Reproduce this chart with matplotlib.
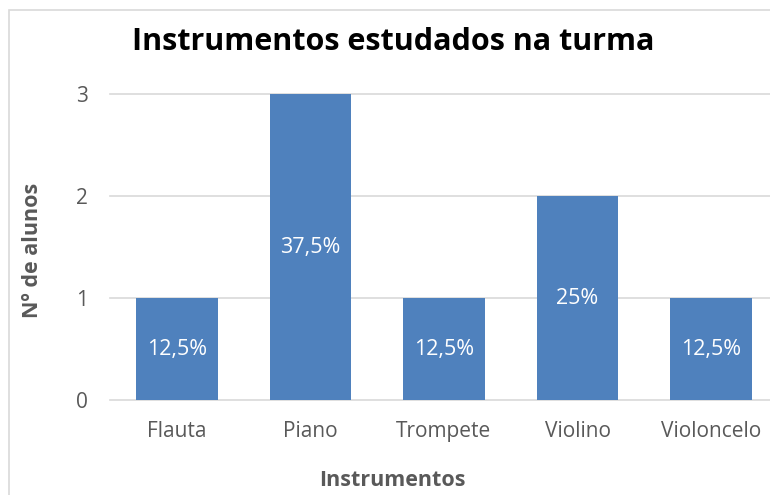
import matplotlib.pyplot as plt
from matplotlib.patches import Rectangle

# Data
instrumentos = ["Flauta", "Piano", "Trompete", "Violino", "Violoncelo"]
alunos = [1, 3, 1, 2, 1]
yticks = [0, 1, 2, 3]

BAR_COLOR = "#4F81BD"
TEXT_COLOR = "#595959"
GRID_COLOR = "#D9D9D9"

plt.rcParams['font.family'] = ['Open Sans', 'DejaVu Sans']

W, H = 770, 495
fig = plt.figure(figsize=(W / 100, H / 100), dpi=100)

# chart border (extends past right/bottom edge as in the reference)
fig.patches.append(Rectangle((9 / W, -0.1), 1.2, 1 - 10 / H + 0.1,
                             transform=fig.transFigure, fill=False,
                             edgecolor=GRID_COLOR, linewidth=1.2))

left, right = 110 / W, 778 / W
bottom, top = (H - 400) / H, (H - 94) / H
ax = fig.add_axes([left, bottom, right - left, top - bottom])

x = range(len(instrumentos))
ax.bar(x, alunos, width=0.61, color=BAR_COLOR, zorder=3)

total = sum(alunos)
for i, v in enumerate(alunos):
    pct = f"{100 * v / total:g}".replace('.', ',') + "%"
    ax.text(i, v / 2, pct, ha='center', va='center', color='white', fontsize=15.5, zorder=4)

ax.set_xlim(-0.5, len(instrumentos) - 0.5)
ax.set_ylim(0, 3)
ax.set_yticks(yticks)
ax.set_xticks(list(x))
ax.set_xticklabels(instrumentos)
for t in yticks:
    ax.axhline(t, color=GRID_COLOR, linewidth=1.2, zorder=1, clip_on=False)

for s in ax.spines.values():
    s.set_visible(False)
ax.tick_params(length=0, colors=TEXT_COLOR, labelsize=15)
ax.tick_params(axis='y', pad=16)
ax.tick_params(axis='x', pad=15)

fig.text(393 / W, 1 - 42 / H, "Instrumentos estudados na turma", ha='center', va='center',
         fontsize=22, fontweight='bold', color='black')
fig.text(392 / W, 1 - 481 / H, "Instrumentos", ha='center', va='center',
         fontsize=15.5, fontweight='bold', color=TEXT_COLOR)
fig.text(33 / W, 1 - 250 / H, "Nº de alunos", ha='center', va='center', rotation=90,
         fontsize=15.5, fontweight='bold', color=TEXT_COLOR)

fig.savefig("out.png", dpi=100)
